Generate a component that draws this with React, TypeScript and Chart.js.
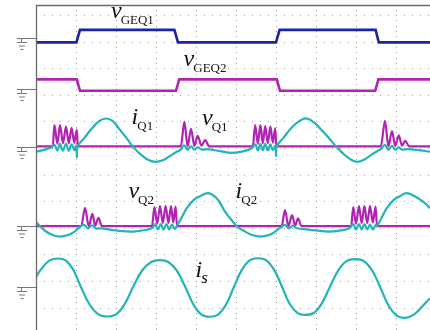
import React, { useEffect, useRef } from "react";
import { Chart, registerables } from "chart.js";

Chart.register(...registerables);

// time axis in divisions (1 div = one graticule column), values in divisions relative to each trace's zero
const VGEQ1_T = [0, 1.01, 1.1, 3.46, 3.55, 6.0, 6.09, 8.49, 8.57, 9.85];
const VGEQ1_V = [0, 0, 0.47, 0.47, 0, 0, 0.47, 0.47, 0, 0];

const VGEQ2_T = [0, 1.02, 1.1, 3.5, 3.58, 6.02, 6.1, 8.48, 8.56, 9.85];
const VGEQ2_V = [0.43, 0.43, 0, 0, 0.43, 0.43, 0, 0, 0.43, 0.43];

const VQ1_T = [0, 0.42, 0.46, 0.535, 0.6, 0.675, 0.75, 0.82, 0.89, 0.955, 1.02, 1.045,
  3.62, 3.71, 3.79, 3.875, 3.96, 4.04, 4.14, 4.23, 4.33,
  5.42, 5.48, 5.545, 5.61, 5.67, 5.73, 5.795, 5.86, 5.92, 5.98, 6.01,
  8.62, 8.725, 8.81, 8.9, 8.98, 9.07, 9.15, 9.23, 9.33, 9.85];
const VQ1_V = [0, 0, 0.8, 0.1, 0.8, 0.12, 0.74, 0.12, 0.7, 0.14, 0.62, 0,
  0, 0.92, 0, 0.66, 0.02, 0.4, 0.03, 0.24, 0,
  0, 0.8, 0.1, 0.8, 0.12, 0.76, 0.12, 0.74, 0.14, 0.68, 0,
  0, 0.96, 0, 0.58, 0.02, 0.42, 0.03, 0.21, 0, 0];

const IQ1_T = [0, 0.2, 0.38, 0.46, 0.53, 0.6, 0.67, 0.75, 0.82, 0.89, 0.96, 1.005, 1.022, 1.04,
  1.2, 1.4, 1.58, 1.75, 1.92, 2.1, 2.27, 2.42, 2.6, 2.8, 3.0, 3.2, 3.35, 3.5, 3.62,
  3.7, 3.79, 3.875, 3.96, 4.05, 4.15, 4.3, 4.6, 4.9, 5.2, 5.4,
  5.48, 5.545, 5.61, 5.67, 5.73, 5.795, 5.86, 5.92, 5.985, 6.0, 6.02,
  6.2, 6.4, 6.6, 6.77, 6.95, 7.15, 7.33, 7.5, 7.7, 7.9, 8.04, 8.2, 8.4, 8.55, 8.62,
  8.72, 8.81, 8.9, 8.98, 9.07, 9.15, 9.3, 9.6, 9.85];
const IQ1_V = [-0.2, -0.13, -0.04, 0.06, -0.15, 0.1, -0.16, 0.1, -0.16, 0.08, -0.14, 0.02, -0.4, 0,
  0.3, 0.68, 0.95, 1.05, 0.95, 0.62, 0.3, 0, -0.28, -0.5, -0.58, -0.5, -0.36, -0.22, -0.12,
  0.04, -0.12, 0, -0.12, -0.04, -0.12, -0.1, -0.18, -0.24, -0.18, -0.06,
  0.08, -0.15, 0.1, -0.15, 0.1, -0.15, 0.08, -0.14, 0.02, -0.36, 0,
  0.35, 0.72, 0.97, 1.05, 0.9, 0.6, 0.3, 0, -0.3, -0.52, -0.58, -0.5, -0.3, -0.16, -0.1,
  0.06, -0.12, 0.02, -0.12, -0.04, -0.12, -0.1, -0.15, -0.2];

const VQ2_T = [0, 1.13, 1.225, 1.32, 1.41, 1.48, 1.56, 1.65,
  2.9, 2.96, 3.03, 3.1, 3.17, 3.24, 3.31, 3.375, 3.43, 3.49, 3.525,
  6.14, 6.225, 6.31, 6.4, 6.48, 6.55, 6.64,
  7.88, 7.93, 8.0, 8.075, 8.14, 8.21, 8.28, 8.35, 8.42, 8.49, 8.525, 9.85];
const VQ2_V = [0, 0, 0.69, 0, 0.46, 0.02, 0.31, 0,
  0, 0.72, 0.1, 0.76, 0.12, 0.76, 0.12, 0.76, 0.14, 0.74, 0,
  0, 0.61, 0, 0.42, 0.02, 0.3, 0,
  0, 0.72, 0.1, 0.76, 0.12, 0.76, 0.12, 0.76, 0.14, 0.74, 0, 0];

const IQ2_T = [0, 0.1, 0.25, 0.45, 0.6, 0.8, 0.95, 1.1,
  1.2, 1.3, 1.4, 1.5, 1.65, 2.0, 2.43, 2.8, 2.92,
  2.98, 3.05, 3.12, 3.19, 3.26, 3.33, 3.4, 3.47, 3.52,
  3.65, 3.77, 3.95, 4.1, 4.3, 4.475, 4.6, 4.725, 4.88, 5.02,
  5.225, 5.4, 5.6, 5.75, 5.9, 6.05, 6.14,
  6.22, 6.32, 6.42, 6.52, 6.65, 7.0, 7.35, 7.7, 7.85,
  7.93, 8.0, 8.075, 8.14, 8.21, 8.28, 8.35, 8.42, 8.49, 8.525,
  8.65, 8.77, 8.95, 9.1, 9.27, 9.5, 9.7, 9.85];
const IQ2_V = [0.17, 0, -0.2, -0.35, -0.39, -0.33, -0.22, -0.02,
  0.05, -0.08, 0.03, -0.08, -0.08, -0.16, -0.2, -0.12, -0.05,
  0.08, -0.12, 0.08, -0.12, 0.08, -0.12, 0.06, -0.1, 0,
  0.35, 0.68, 1.0, 1.13, 1.24, 1.11, 0.88, 0.55, 0.25, 0,
  -0.2, -0.33, -0.39, -0.36, -0.28, -0.12, -0.03,
  0.05, -0.08, 0.02, -0.08, -0.1, -0.16, -0.2, -0.14, -0.06,
  0.08, -0.12, 0.08, -0.12, 0.08, -0.12, 0.06, -0.12, 0.04, 0,
  0.35, 0.68, 1.0, 1.13, 1.24, 1.1, 0.9, 0.68];

const IS_T = [0, 0.137, 0.343, 0.55, 0.74, 0.93, 1.12,
  1.34, 1.56, 1.78, 2.0, 2.21, 2.43,
  2.65, 2.88, 3.1, 3.31, 3.52, 3.73,
  3.94, 4.14, 4.35, 4.55, 4.75, 4.95,
  5.15, 5.35, 5.55, 5.75, 5.95, 6.15,
  6.34, 6.54, 6.73, 6.94, 7.14, 7.35,
  7.56, 7.77, 7.98, 8.19, 8.4, 8.6,
  8.81, 9.02, 9.23, 9.45, 9.65, 9.85];
const IS_V = [0.38, 0.68, 0.99, 1.06, 0.99, 0.64, 0,
  -0.67, -1.04, -1.12, -1.04, -0.67, 0,
  0.6, 0.93, 1.0, 0.93, 0.6, 0,
  -0.68, -1.05, -1.13, -1.05, -0.68, 0,
  0.64, 1.0, 1.07, 1.0, 0.64, 0,
  -0.64, -0.99, -1.06, -0.99, -0.64, 0,
  0.62, 0.97, 1.04, 0.97, 0.62, 0,
  -0.7, -1.09, -1.17, -1.05, -0.75, -0.43];

// channel zero positions (divisions) and ground-marker levels
const OFFSETS = [9.97, 8.15, 6.06, 3.06, 0.786];
const GROUND_LEVELS = [10.15, 8.21, 6.05, 3.07, 0.79];

const GRID_X = [1, 2, 3, 4, 5, 6, 7, 8, 9];
const GRID_Y = [0, 1, 2, 3, 4, 5, 6, 7, 8, 9, 10, 11];
const X_RANGE = [0, 9.85];
const Y_RANGE = [-0.842, 11.376];

const LABELS = [
  { main: "v", sub: "GEQ1", x: 1.875, y: 10.87, subItalic: false },
  { main: "v", sub: "GEQ2", x: 3.69, y: 9.08, subItalic: false },
  { main: "i", sub: "Q1", x: 2.39, y: 6.9, subItalic: false },
  { main: "v", sub: "Q1", x: 4.15, y: 6.865, subItalic: false },
  { main: "v", sub: "Q2", x: 2.31, y: 4.12, subItalic: false },
  { main: "i", sub: "Q2", x: 4.99, y: 4.12, subItalic: false },
  { main: "i", sub: "s", x: 3.99, y: 1.16, subItalic: true },
];

const BLUE = "#1c22a6";
const MAGENTA = "#b322b5";
const TEAL = "#22b4b6";

function series(t: number[], v: number[], off: number) {
  return t.map((x, i) => ({ x, y: off + v[i] }));
}

const scopePlugin = {
  id: "scope",
  beforeDatasetsDraw(chart: any) {
    const { ctx, chartArea, scales } = chart;
    const xs = scales.x, ys = scales.y;
    ctx.save();
    ctx.fillStyle = "#9a9a9a";
    for (const gy of GRID_Y) {
      const py = Math.round(ys.getPixelForValue(gy));
      for (let k = 1; k <= 50; k++) {
        const px = Math.round(xs.getPixelForValue(k / 5));
        if (px > chartArea.right) break;
        ctx.fillRect(px, py, 1, 1);
      }
    }
    for (const gx of GRID_X) {
      const px = Math.round(xs.getPixelForValue(gx));
      for (let k = -5; k <= 60; k++) {
        const py = Math.round(ys.getPixelForValue(k / 5));
        if (py < chartArea.top || py > chartArea.bottom) continue;
        ctx.fillRect(px, py, 1, 1);
      }
    }
    ctx.restore();
  },
  afterDatasetsDraw(chart: any) {
    const { ctx, chartArea, scales } = chart;
    const xs = scales.x, ys = scales.y;
    ctx.save();
    ctx.strokeStyle = "#6a6a6a";
    ctx.lineWidth = 1.3;
    ctx.beginPath();
    ctx.moveTo(chartArea.left + 0.5, chartArea.bottom);
    ctx.lineTo(chartArea.left + 0.5, chartArea.top + 0.5);
    ctx.lineTo(chartArea.right, chartArea.top + 0.5);
    ctx.stroke();
    ctx.strokeStyle = "#777";
    ctx.lineWidth = 1;
    for (const g of GROUND_LEVELS) {
      const py = Math.round(ys.getPixelForValue(g)) + 0.5;
      const x0 = chartArea.left - 19;
      ctx.beginPath();
      ctx.moveTo(x0, py);
      ctx.lineTo(chartArea.left, py);
      ctx.moveTo(x0 + 4.5, py);
      ctx.lineTo(x0 + 4.5, py + 4);
      ctx.moveTo(x0, py + 4);
      ctx.lineTo(x0 + 10, py + 4);
      ctx.moveTo(x0 + 2, py + 7.5);
      ctx.lineTo(x0 + 8, py + 7.5);
      ctx.moveTo(x0 + 3.5, py + 11);
      ctx.lineTo(x0 + 6.5, py + 11);
      ctx.stroke();
    }
    ctx.fillStyle = "#111";
    ctx.textBaseline = "alphabetic";
    for (const l of LABELS) {
      const px = xs.getPixelForValue(l.x);
      const py = ys.getPixelForValue(l.y);
      ctx.font = 'italic 24px "Liberation Serif", serif';
      ctx.fillText(l.main, px, py);
      const w = ctx.measureText(l.main).width;
      ctx.font = (l.subItalic ? "italic 17px" : "13px") + ' "Liberation Serif", serif';
      ctx.fillText(l.sub, px + w - 1, py + 6);
    }
    ctx.restore();
  },
};

export default function App() {
  const ref = useRef<HTMLCanvasElement | null>(null);
  useEffect(() => {
    if (!ref.current) return;
    const mk = (label: string, t: number[], v: number[], off: number, color: string, order: number, mode: string) => ({
      label,
      data: series(t, v, off),
      borderColor: color,
      backgroundColor: color,
      borderWidth: mode === "step" ? 2.6 : 2.2,
      pointRadius: 0,
      fill: false,
      order,
      tension: mode === "smooth" ? 0.4 : 0,
      cubicInterpolationMode: mode === "mono" ? "monotone" : "default",
    });
    const chart = new Chart(ref.current, {
      type: "line",
      data: {
        datasets: [
          mk("vGEQ1", VGEQ1_T, VGEQ1_V, OFFSETS[0], BLUE, 1, "step"),
          mk("vGEQ2", VGEQ2_T, VGEQ2_V, OFFSETS[1], MAGENTA, 1, "step"),
          mk("iQ1", IQ1_T, IQ1_V, OFFSETS[2], TEAL, 1, "smooth"),
          mk("vQ1", VQ1_T, VQ1_V, OFFSETS[2], MAGENTA, 2, "mono"),
          mk("iQ2", IQ2_T, IQ2_V, OFFSETS[3], TEAL, 1, "smooth"),
          mk("vQ2", VQ2_T, VQ2_V, OFFSETS[3], MAGENTA, 2, "mono"),
          mk("is", IS_T, IS_V, OFFSETS[4], TEAL, 1, "smooth"),
        ] as any,
      },
      options: {
        responsive: false,
        animation: false,
        parsing: false,
        normalized: true,
        layout: { padding: { left: 36, top: 5, right: 0, bottom: 0 } },
        plugins: { legend: { display: false }, tooltip: { enabled: false } },
        scales: {
          x: { type: "linear", min: X_RANGE[0], max: X_RANGE[1], display: false },
          y: { type: "linear", min: Y_RANGE[0], max: Y_RANGE[1], display: false },
        },
      },
      plugins: [scopePlugin],
    });
    return () => chart.destroy();
  }, []);
  return (
    <div style={{ position: "fixed", left: 0, top: 0, width: 430, height: 330, background: "#fff" }}>
      <canvas ref={ref} width={430} height={330} style={{ display: "block" }} />
    </div>
  );
}
